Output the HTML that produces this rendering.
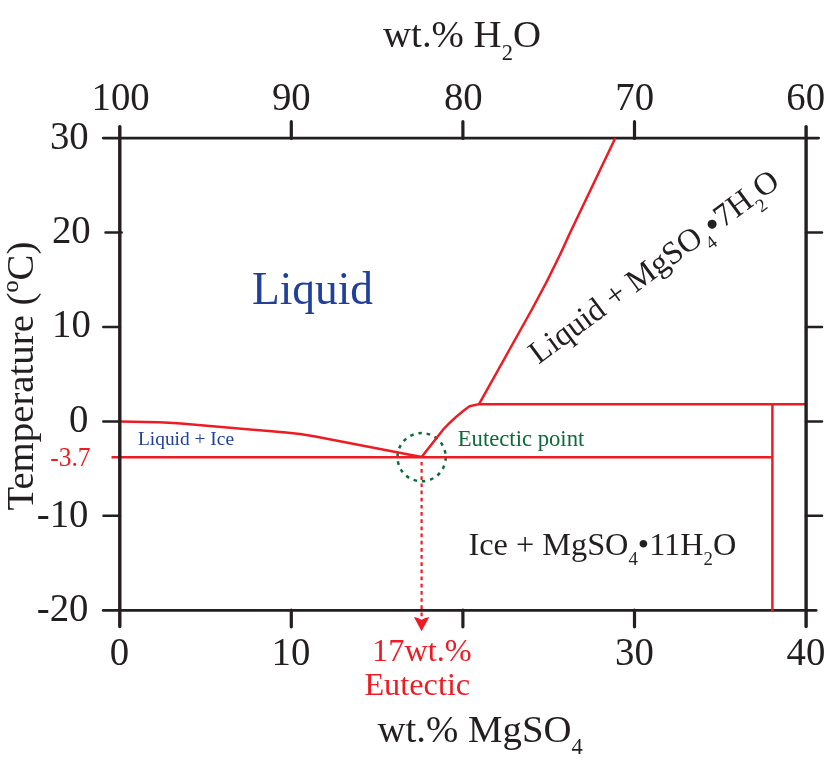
<!DOCTYPE html>
<html>
<head>
<meta charset="utf-8">
<title>MgSO4-H2O phase diagram</title>
<style>
html,body{margin:0;padding:0;background:#fff;}
body{width:830px;height:763px;overflow:hidden;}
svg{display:block;filter:opacity(0.9999);}
text{font-family:"Liberation Serif",serif;}
.k{fill:#231f20;}
.r{fill:#ed1c24;}
.b{fill:#21409a;}
.g{fill:#0b6b3a;}
</style>
</head>
<body>
<svg width="830" height="763" viewBox="0 0 830 763">
<rect width="830" height="763" fill="#fff"/>

<!-- dotted arrow (under axis) -->
<path d="M421.6,461.9 V618" fill="none" stroke="#ed1c24" stroke-width="2.2" stroke-dasharray="3.7 3.47"/>
<path d="M413.9,616.9 Q418.2,617.6 421.6,619.8 Q425,617.6 429.3,616.9 L421.6,631.2 Z" fill="#ed1c24"/>

<!-- horizontal axes -->
<g fill="none" stroke="#231f20" stroke-linecap="round">
  <path stroke-width="2.9" d="M103.3,138.1 H818.6"/>
  <path stroke-width="2.9" d="M103.3,610.4 H816.1"/>
</g>

<!-- eutectic circle -->
<circle cx="421.6" cy="457.2" r="24.1" fill="none" stroke="#0b6b3a" stroke-width="2.5" stroke-dasharray="3.5 4.913" stroke-dashoffset="-0.2"/>

<!-- red phase boundaries -->
<g fill="none" stroke="#ed1c24" stroke-width="2.5" stroke-linejoin="round" stroke-linecap="butt">
  <!-- ice liquidus -->
  <path d="M119.7,421.5 L158,422.2 Q169,422.5 181,423.6 L286,432.4 Q300,433.5 314,436.3 L421.6,457.1"/>
  <!-- eutectic horizontal -->
  <path d="M111.5,457.2 H772.4"/>
  <!-- hydrate liquidus (lower) -->
  <path d="M421.6,457.1 L443.6,429 Q456.5,415.5 469.5,406.3 L478.9,404.1"/>
  <!-- hydrate liquidus (upper) -->
  <path d="M478.9,404.4 L531.6,310 Q552.8,271.8 569,235 L615.2,138.2"/>
  <!-- peritectic horizontal -->
  <path d="M478.4,404.3 H806"/>
  <!-- vertical at 38 -->
  <path d="M772.4,404.3 V611.6"/>
</g>

<!-- vertical axes -->
<g fill="none" stroke="#231f20" stroke-linecap="round">
  <path stroke-width="3.4" d="M119.8,126.6 V626.5"/>
  <path stroke-width="3.4" d="M806.1,126.6 V626.5"/>
</g>
<g fill="none" stroke="#231f20" stroke-linecap="round">
  <!-- top ticks -->
  <path stroke-width="3.2" d="M291.3,121.7 V138.5 M462.9,121.7 V138.5 M634.5,121.7 V138.5"/>
  <!-- bottom ticks -->
  <path stroke-width="3.2" d="M291.3,610 V626.8 M462.9,610 V626.8 M634.5,610 V626.8"/>
  <!-- left ticks -->
  <path stroke-width="2.5" d="M105.5,232.4 H121.7 M103.3,327 H120 M103.3,421.5 H120 M103.5,515.7 H120"/>
  <!-- right ticks -->
  <path stroke-width="2.5" d="M806,232.4 H822 M806,327 H822 M806,421.4 H822 M806,515.7 H822"/>
</g>

<!-- top axis labels -->
<g class="k" transform="scale(1,1.045)" font-size="38.8" text-anchor="middle">
  <text x="120.6" y="105.64">100</text>
  <text x="291.3" y="105.64">90</text>
  <text x="463.3" y="105.64">80</text>
  <text x="634.7" y="105.64">70</text>
  <text x="805.7" y="105.64">60</text>
</g>
<!-- bottom axis labels -->
<g class="k" transform="scale(1,1.045)" font-size="38.8" text-anchor="middle">
  <text x="119.5" y="636.27">0</text>
  <text x="291" y="636.27">10</text>
  <text x="634.5" y="636.27">30</text>
  <text x="806" y="636.27">40</text>
</g>
<!-- left axis labels -->
<g class="k" transform="scale(1,1.045)" font-size="38.8" text-anchor="end">
  <text x="88.7" y="142.40">30</text>
  <text x="90.7" y="232.34">20</text>
  <text x="90.8" y="322.87">10</text>
  <text x="88.5" y="413.30">0</text>
  <text x="88.5" y="504.11">-10</text>
  <text x="88.5" y="594.16">-20</text>
</g>

<!-- titles -->
<text class="k" font-size="38.8" x="383.1" y="46.9">wt.% H<tspan font-size="22.5" dy="12.6">2</tspan><tspan dy="-12.6">O</tspan></text>
<text class="k" font-size="38.8" x="377.5" y="741.6">wt.% MgSO<tspan font-size="22.5" dy="12.6">4</tspan></text>
<text class="k" font-size="38.8" transform="translate(33.2,510.6) rotate(-90)">Temperature (ºC)</text>

<!-- region labels -->
<text class="b" font-size="45.4" x="252" y="303.5">Liquid</text>
<text class="b" font-size="19.4" x="138" y="445.4">Liquid + Ice</text>
<text class="g" font-size="22.7" x="457.7" y="445.6">Eutectic point</text>
<text class="r" font-size="25.5" text-anchor="end" x="90.6" y="446.12" transform="scale(1,1.045)">-3.7</text>
<text class="r" font-size="32.3" text-anchor="middle" x="421.9" y="660.5">17wt.%</text>
<text class="r" font-size="32.3" text-anchor="middle" x="417.3" y="694.5">Eutectic</text>
<text class="k" font-size="32.3" x="468.5" y="554.5">Ice + MgSO<tspan font-size="18.8" dy="10.4">4</tspan><tspan dy="-10.4">•11H</tspan><tspan font-size="18.8" dy="10.4">2</tspan><tspan dy="-10.4">O</tspan></text>
<text class="k" font-size="32.3" transform="translate(538.6,364.8) rotate(-36.5)">Liquid + MgSO<tspan font-size="18.8" dy="10.4">4</tspan><tspan dy="-7.6" dx="0.4" font-size="38">•</tspan><tspan dy="-2.8" font-size="32.3">7H</tspan><tspan font-size="18.8" dy="10.4">2</tspan><tspan dy="-10.4" font-size="32.3">O</tspan></text>
</svg>
</body>
</html>
